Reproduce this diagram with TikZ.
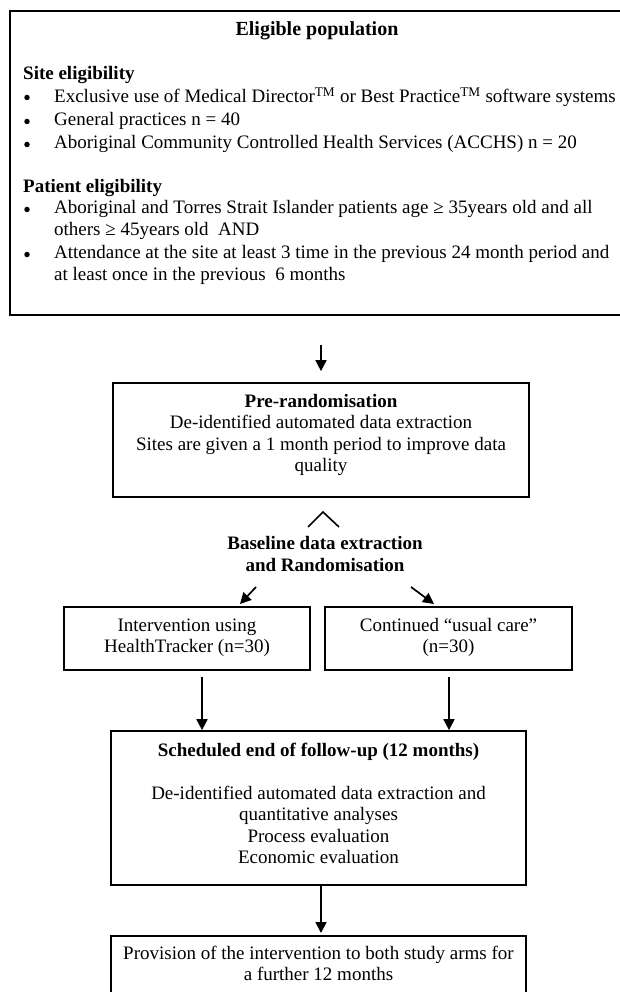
\documentclass[tikz,border=0pt]{standalone}
\usepackage{fontspec}
\setmainfont{Liberation Serif}
\usetikzlibrary{arrows.meta,calc}
\newcommand\fs{\fontsize{19}{21.5}\selectfont}
\begin{document}
\begin{tikzpicture}[x=1pt,y=-1pt,
  box/.style={draw, line width=1.7pt, inner sep=0pt, align=center, font=\fs},
  arr/.style={line width=1.7pt, -{Triangle[width=11pt,length=11pt]}},
  txt/.style={anchor=west, inner sep=0pt, font=\fs},
  bul/.style={circle, fill, inner sep=0pt, minimum size=5.5pt},
  plain/.style={inner sep=0pt, align=center, font=\fs},
]
\useasboundingbox (0,0) rectangle (620,992);
\fill[white] (0,0) rectangle (620,992);

% top box
\node[box, anchor=north west, minimum width=640pt, minimum height=304pt] (top) at (9,10) {};
\node[plain, font=\fontsize{20}{22}\selectfont\bfseries] (title) at (317,31) {Eligible population};
\node[txt, font=\fs\bfseries] (site) at (23,75) {Site eligibility};
\node[bul] (b1) at (27,97.5) {};
\node[txt] (t1) at (54,97) {Exclusive use of Medical Director\textsuperscript{TM} or Best Practice\textsuperscript{TM} software systems};
\node[bul] (b2) at (27,121.5) {};
\node[txt] (t2) at (54,121) {General practices n = 40};
\node[bul] (b3) at (27,144.5) {};
\node[txt] (t3) at (54,144) {Aboriginal Community Controlled Health Services (ACCHS) n = 20};
\node[txt, font=\fs\bfseries] (pat) at (23,188) {Patient eligibility};
\node[bul] (b4) at (27,209.5) {};
\node[txt] (t4) at (54,209) {Aboriginal and Torres Strait Islander patients age ≥ 35years old and all};
\node[txt] (t4b) at (54,231) {others ≥ 45years old\ \ AND};
\node[bul] (b5) at (27,254.5) {};
\node[txt] (t5) at (54,254) {Attendance at the site at least 3 time in the previous 24 month period and};
\node[txt] (t5b) at (54,276) {at least once in the previous\ \ 6 months};

% pre-randomisation
\node[box, minimum width=416pt, minimum height=114pt] (pre) at (321,440) {};
\node[plain] (pretxt) at (321,435) {\textbf{Pre-randomisation}\\De-identified automated data extraction\\Sites are given a 1 month period to improve data\\quality};
\coordinate (topa) at ($(top.south -| pre.north)+(0,29)$);
\draw[arr, shorten >=11pt] (topa) -- (pre.north);

% baseline
\node[plain, font=\fs\bfseries] (base) at (325,554) {Baseline data extraction\\and Randomisation};
\coordinate (apex) at (323,512);
\draw[line width=1.6pt] ($(apex)+(-15,15)$) -- (apex) -- ($(apex)+(16,15)$);

% arms
\node[box, minimum width=246pt, minimum height=63pt] (left) at (187,638.5) {};
\node[plain] (lefttxt) at (187,637.5) {Intervention using\\HealthTracker (n=30)};
\node[box, minimum width=247pt, minimum height=63pt] (right) at (448.5,638.5) {};
\node[plain] (righttxt) at (448.5,637.5) {Continued “usual care”\\(n=30)};
\coordinate (la) at (256,587);
\coordinate (lb) at (240,604);
\coordinate (ra) at (411,587);
\coordinate (rb) at (434,604);
\draw[arr] (la) -- (lb);
\draw[arr] (ra) -- (rb);

% scheduled
\node[box, minimum width=415pt, minimum height=154pt] (sched) at (318.5,808) {};
\node[plain] (schedtxt) at (318.5,803.5) {\textbf{Scheduled end of follow-up (12 months)}\\[21pt]De-identified automated data extraction and\\quantitative analyses\\Process evaluation\\Economic evaluation};
\coordinate (ls) at ($(left.south)+(15,6)$);
\coordinate (rs) at ($(right.south)+(0.5,6)$);
\draw[arr] (ls) -- (ls |- sched.north);
\draw[arr] (rs) -- (rs |- sched.north);

% bottom
\node[box, anchor=north, minimum width=415pt, minimum height=120pt] (prov) at (318.5,935) {};
\node[plain] (provtxt) at (318.5,963.5) {Provision of the intervention to both study arms for\\a further 12 months};
\coordinate (ss) at ($(sched.south)+(2.5,0)$);
\draw[arr, shorten >=2pt] (ss) -- (ss |- prov.north);
\end{tikzpicture}
\end{document}
